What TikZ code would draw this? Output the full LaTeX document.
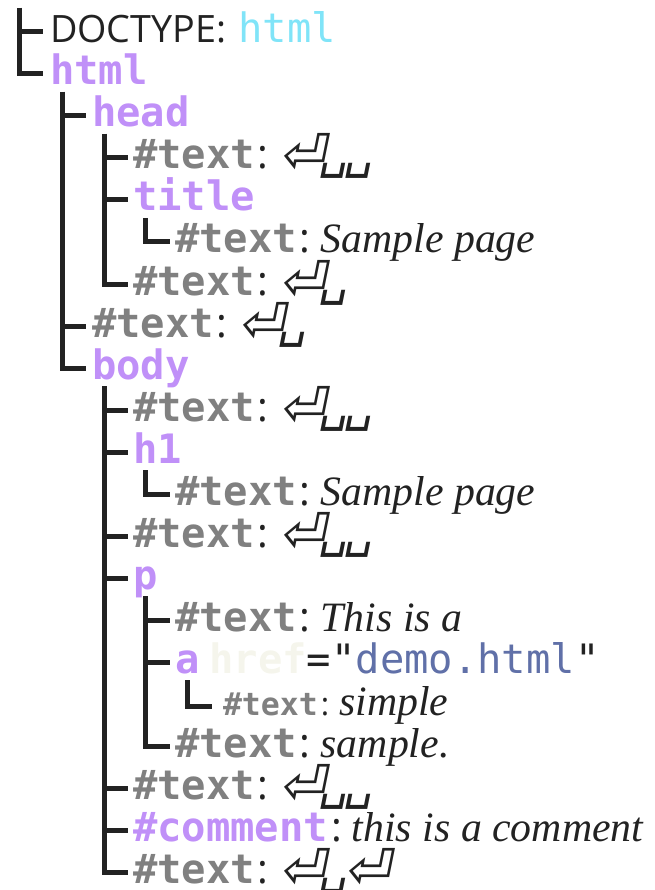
\documentclass[tikz,border=0pt]{standalone}
\usepackage{fontspec}
\setmainfont{Liberation Serif}
\newfontfamily\monofont{DejaVu Sans Mono}
\newfontfamily\symfont[FakeSlant=0.2]{DejaVu Sans}
\newfontfamily\blankfont[FakeSlant=0.2]{DejaVu Sans Mono}
\newfontfamily\labelfont{Open Sans}
\usetikzlibrary{calc}
\definecolor{Ink}{RGB}{34, 34, 34}
\definecolor{TagPurple}{RGB}{192, 144, 248}
\definecolor{NodeGray}{RGB}{128, 128, 128}
\definecolor{DocCyan}{RGB}{128, 228, 248}
\definecolor{LinkBlue}{RGB}{96, 112, 168}
\definecolor{HrefWhite}{RGB}{245, 245, 236}

\newcommand{\tagname}[1]{{\monofont\bfseries\color{TagPurple}#1}}
\newcommand{\textkey}{{\monofont\bfseries\color{NodeGray}\#text}}
\newcommand{\colonsep}{{\labelfont\color{Ink}\hspace{3pt}:}}
\newcommand{\retsym}{\raisebox{-5pt}{\symfont\fontsize{55pt}{55pt}\selectfont ⏎}\kern-6pt}
\newcommand{\blanksym}{\raisebox{1pt}{\blankfont\fontsize{48pt}{48pt}\selectfont ␣}\kern-4pt}
\newcommand{\nodeval}[1]{\hspace{10pt}{\fontsize{41.8pt}{42pt}\selectfont\textit{#1}}}
\newcommand{\wsval}[1]{\hspace{11pt}#1}

\begin{document}
\begin{tikzpicture}[x=1pt, y=1pt, font=\fontsize{40.5pt}{42pt}\selectfont,
    row/.style={anchor=base west, inner sep=0pt, outer sep=0pt, text=Ink},
    branch/.style={draw=Ink, line width=5pt}]
    \path[use as bounding box] (0,0) rectangle (654,-890);
    \coordinate (top) at (19.5,-8);

    % document
    \node[row] (doctype) at (50,-43) {{\labelfont\fontsize{37.7pt}{42pt}\selectfont DOCTYPE:}\hspace{12pt}{\monofont\color{DocCyan}html}};
    \node[row] (html) at (50,-85) {\tagname{html}};

    % head
    \node[row] (head) at (92,-127) {\tagname{head}};
    \node[row] (headws1) at (133,-169) {\textkey\colonsep\wsval{\retsym\blanksym\blanksym}};
    \node[row] (title) at (133,-211) {\tagname{title}};
    \node[row] (titletext) at (175,-253) {\textkey\colonsep\nodeval{Sample page}};
    \node[row] (headws2) at (133,-295) {\textkey\colonsep\wsval{\retsym\blanksym}};
    \node[row] (htmlws) at (92,-337) {\textkey\colonsep\wsval{\retsym\blanksym}};

    % body
    \node[row] (body) at (92,-379) {\tagname{body}};
    \node[row] (bodyws1) at (133,-421) {\textkey\colonsep\wsval{\retsym\blanksym\blanksym}};
    \node[row] (hone) at (133,-463) {\tagname{h1}};
    \node[row] (honetext) at (175,-505) {\textkey\colonsep\nodeval{Sample page}};
    \node[row] (bodyws2) at (133,-547) {\textkey\colonsep\wsval{\retsym\blanksym\blanksym}};
    \node[row] (para) at (133,-589) {\tagname{p}};
    \node[row] (paratext1) at (175,-631) {\textkey\colonsep\nodeval{This is a}};
    \node[row] (link) at (175,-673) {\tagname{a}\hspace{10pt}{\monofont\bfseries\color{HrefWhite}href}{\monofont ="}{\monofont\color{LinkBlue}demo.html}{\monofont "}};
    \node[row] (linktext) at (223,-715) {{\fontsize{31.5pt}{32pt}\selectfont\textkey\colonsep}\nodeval{simple}};
    \node[row] (paratext2) at (175,-757) {\textkey\colonsep\nodeval{sample.}};
    \node[row] (bodyws3) at (133,-799) {\textkey\colonsep\wsval{\retsym\blanksym\blanksym}};
    \node[row] (comment) at (133,-841) {\tagname{\#comment}\colonsep\nodeval{this is a comment}};
    \node[row] (bodyws4) at (133,-883) {\textkey\colonsep\wsval{\retsym\blanksym\retsym}};

    % tree lines
    \draw[branch] (top) |- ([xshift=-7pt,yshift=11pt]doctype.base west);
    \draw[branch] (top) |- ([xshift=-7pt,yshift=11pt]html.base west);
    \foreach \child in {head, htmlws, body}
        \draw[branch] ([xshift=12pt,yshift=-7pt]html.base west) |- ([xshift=-6pt,yshift=11pt]\child.base west);
    \foreach \child in {headws1, title, headws2}
        \draw[branch] ([xshift=12pt,yshift=-7pt]head.base west) |- ([xshift=-5pt,yshift=11pt]\child.base west);
    \draw[branch] ([xshift=12pt,yshift=-7pt]title.base west) |- ([xshift=-5pt,yshift=11pt]titletext.base west);
    \foreach \child in {bodyws1, hone, bodyws2, para, bodyws3, comment, bodyws4}
        \draw[branch] ([xshift=12pt,yshift=-7pt]body.base west) |- ([xshift=-5pt,yshift=11pt]\child.base west);
    \draw[branch] ([xshift=12pt,yshift=-7pt]hone.base west) |- ([xshift=-5pt,yshift=11pt]honetext.base west);
    \foreach \child in {paratext1, link, paratext2}
        \draw[branch] ([xshift=12pt,yshift=-7pt]para.base west) |- ([xshift=-5pt,yshift=11pt]\child.base west);
    \draw[branch] ([xshift=12pt,yshift=-7pt]link.base west) |- ([xshift=-11pt,yshift=9pt]linktext.base west);
\end{tikzpicture}
\end{document}
